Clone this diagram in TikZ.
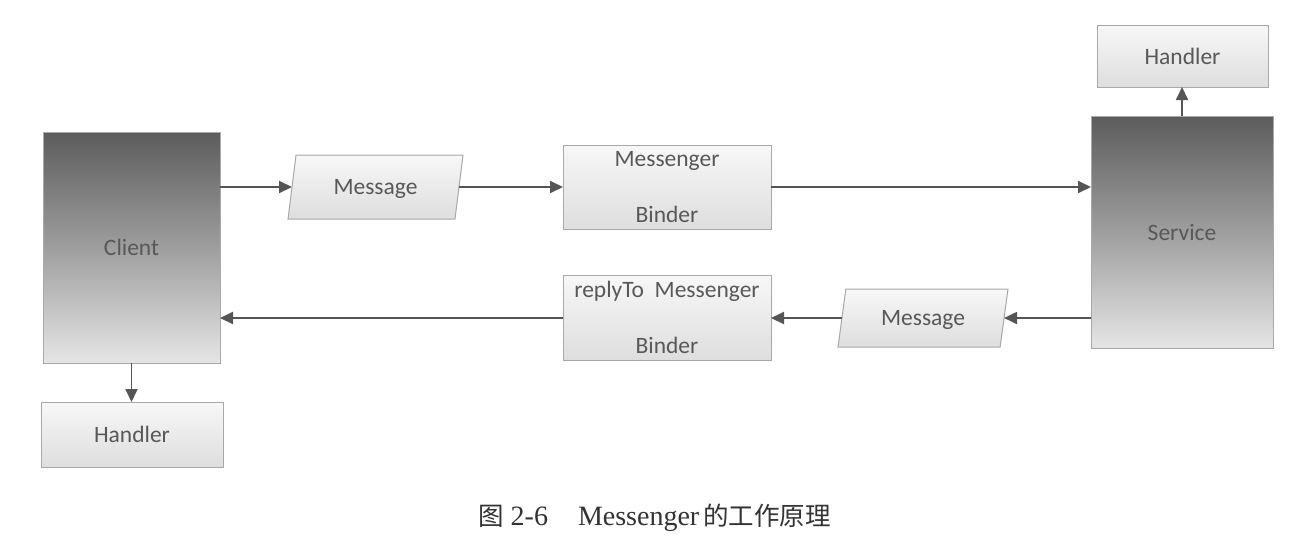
\documentclass[tikz,border=0pt]{standalone}
\usepackage{fontspec}
\setmainfont{Carlito}
\newfontfamily\capfont{Liberation Serif}
\newfontfamily\cjk{Noto Sans CJK SC}
\usetikzlibrary{shapes.geometric,arrows.meta}
\definecolor{txt}{HTML}{585858}
\definecolor{edge}{HTML}{A8A8A8}
\definecolor{arr}{HTML}{555555}
\tikzset{
  lbl/.style={font=\fontsize{23.5}{56}\selectfont, text=txt, align=center, inner sep=0pt, outer sep=0pt, text depth=0pt},
  darkbox/.style={lbl, draw=edge, line width=1pt, top color=black!64, bottom color=black!10, middle color=black!38},
  lightbox/.style={lbl, draw=edge, line width=1pt, top color=black!3, bottom color=black!13},
  para/.style={lightbox, trapezium, trapezium stretches body},
  conn/.style={draw=arr, line width=1.9pt, -{Triangle[length=13pt,width=12pt]}}
}
\begin{document}
\begin{tikzpicture}[x=1pt,y=-1pt]
\useasboundingbox (0,0) rectangle (1289,542);
\node[darkbox, minimum width=177pt, minimum height=231pt] (client) at (131.5,247.5) {Client};
\node[lightbox, minimum width=182pt, minimum height=65pt] (handlerL) at (132,434.5) {Handler};
\node[para, trapezium left angle=62, trapezium right angle=118, minimum width=175pt, minimum height=64pt] (msg1) at (375.5,187) {Message};
\node[lightbox, minimum width=208pt, minimum height=84pt] (mb) at (667,187) {Messenger\\Binder};
\node[darkbox, minimum width=182pt, minimum height=232pt] (service) at (1182,232) {Service};
\node[lightbox, minimum width=171pt, minimum height=62pt] (handlerR) at (1182.5,56) {Handler};
\node[para, trapezium left angle=62.5, trapezium right angle=117.5, minimum width=170pt, minimum height=58pt] (msg2) at (923,318) {Message};
\node[lightbox, minimum width=208pt, minimum height=85pt] (rb) at (667,317.5) {replyTo\ \ Messenger\\Binder};
\draw[conn] (client.east |- msg1) -- (msg1);
\draw[conn] (msg1) -- (mb);
\draw[conn] (mb) -- (mb -| service.west);
\draw[conn] (service.north) -- (service.north |- handlerR.south);
\draw[conn] (client.south) -- (client.south |- handlerL.north);
\draw[conn] (service.west |- msg2) -- (msg2);
\draw[conn] (msg2) -- (msg2 -| rb.east);
\draw[conn] (rb.west |- msg2) -- (msg2 -| client.east);
\node[font=\capfont\fontsize{28}{30}\selectfont, text=black!80, inner sep=0pt, anchor=base west] (cap) at (478,525) {{\cjk\fontsize{25.5}{30}\selectfont 图}\hspace{7pt}2-6\hspace{30pt}Messenger\hspace{4pt}{\cjk\fontsize{25.5}{30}\selectfont 的工作原理}};
\end{tikzpicture}
\end{document}
